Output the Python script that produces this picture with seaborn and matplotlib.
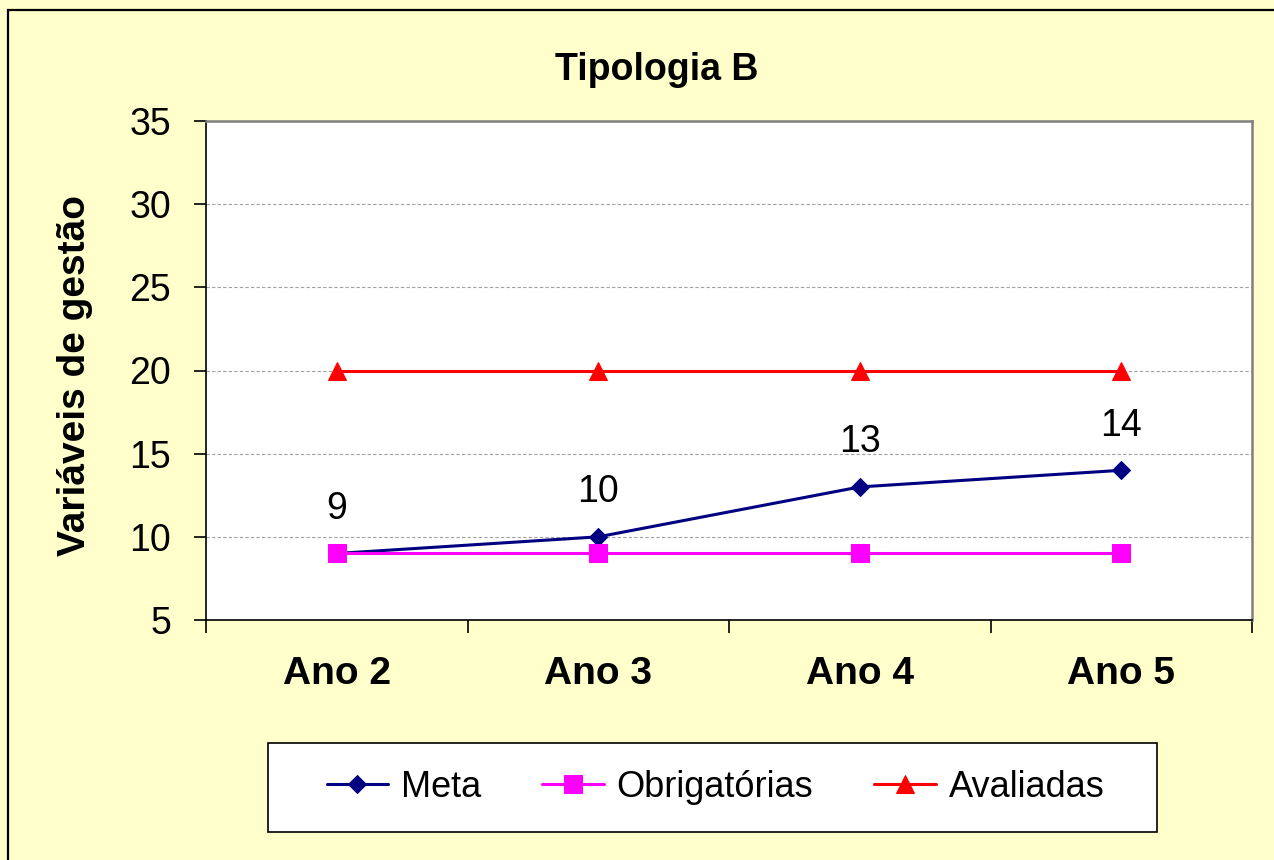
import pandas as pd
import matplotlib.pyplot as plt
import seaborn as sns
from matplotlib.patches import Rectangle
from matplotlib.ticker import FixedLocator, NullFormatter, FixedFormatter

# data
anos = ["Ano 2", "Ano 3", "Ano 4", "Ano 5"]
meta = [9, 10, 13, 14]
obrigatorias = [9, 9, 9, 9]
avaliadas = [20, 20, 20, 20]
series_names = ["Meta", "Obrigatórias", "Avaliadas"]
y_ticks = [5, 10, 15, 20, 25, 30, 35]

df = pd.DataFrame({
    "Ano": anos * 3,
    "Valor": meta + obrigatorias + avaliadas,
    "Serie": [series_names[0]] * 4 + [series_names[1]] * 4 + [series_names[2]] * 4,
})

sns.set_style("white")
plt.rcParams["font.family"] = ["Liberation Sans", "DejaVu Sans"]
plt.rcParams["text.color"] = "black"
plt.rcParams["axes.labelcolor"] = "black"
plt.rcParams["xtick.color"] = "black"
plt.rcParams["ytick.color"] = "black"

W, H = 1274, 860
fig = plt.figure(figsize=(W / 100, H / 100), dpi=100, facecolor="#FFFFCC")
ax = fig.add_axes([206 / W, 1 - 620 / H, (1252 - 206) / W, (620 - 121) / H])
ax.set_facecolor("white")

# outer frame (only top and left edges visible in the reference)
fig.patches.append(Rectangle((8 / W, -0.05), 1.2, 1 - 10 / H + 0.05,
                             transform=fig.transFigure, fill=False,
                             edgecolor="black", linewidth=1.6))
# legend box
fig.patches.append(Rectangle((268 / W, 1 - 832 / H), 889 / W, 89 / H,
                             transform=fig.transFigure, facecolor="white",
                             edgecolor="black", linewidth=1.2))

palette = {"Meta": "#000080", "Obrigatórias": "#FF00FF", "Avaliadas": "#FF0000"}
markers = {"Meta": "D", "Obrigatórias": "s", "Avaliadas": "^"}
sizes = {"Meta": 9, "Obrigatórias": 13, "Avaliadas": 13}

for name in series_names:
    sub = df[df["Serie"] == name]
    sns.lineplot(data=sub, x="Ano", y="Valor", ax=ax, color=palette[name],
                 marker=markers[name], markersize=sizes[name],
                 markeredgecolor=palette[name], linewidth=2.2, label=name,
                 legend=False)

# data labels for Meta
for i, v in enumerate(meta):
    ax.annotate(str(v), (i, v), xytext=(0, 32), textcoords="offset points",
                ha="center", va="center", fontsize=27, color="black")

ax.set_xlim(-0.5, 3.5)
ax.set_ylim(5, 35)
ax.set_yticks(y_ticks)
ax.set_yticklabels([str(t) for t in y_ticks], fontsize=27)
ax.tick_params(axis="y", direction="out", length=9, width=1.2, pad=16, left=True)

# category boundaries as major ticks, labels on minor ticks at the centres
ax.xaxis.set_major_locator(FixedLocator([-0.5, 0.5, 1.5, 2.5, 3.5]))
ax.xaxis.set_major_formatter(NullFormatter())
ax.xaxis.set_minor_locator(FixedLocator(range(len(anos))))
ax.xaxis.set_minor_formatter(FixedFormatter(anos))
ax.tick_params(axis="x", which="major", direction="out", length=9, width=1.2, bottom=True)
ax.tick_params(axis="x", which="minor", length=0, pad=26, labelsize=28)
for lab in ax.get_xticklabels(minor=True):
    lab.set_fontweight("bold")

ax.set_xlabel("")
ax.set_ylabel("Variáveis de gestão", fontsize=28, fontweight="bold")
ax.yaxis.set_label_coords(-0.108, 0.49)

ax.grid(axis="y", linestyle=(0, (3, 2)), color="#A0A0A0", linewidth=0.8)
for s in ("left", "bottom"):
    ax.spines[s].set_color("black")
    ax.spines[s].set_linewidth(1.2)
for s in ("top", "right"):
    ax.spines[s].set_color("#808080")
    ax.spines[s].set_linewidth(1.8)

fig.text(657 / W, 1 - 80 / H, "Tipologia B", ha="center", va="baseline",
         fontsize=27, fontweight="bold")

handles, labels = ax.get_legend_handles_labels()
leg = fig.legend(handles, labels, loc="center",
                 bbox_to_anchor=(271 / W, 1 - 832 / H, 889 / W, 89 / H),
                 ncol=3, fontsize=26, frameon=False,
                 handlelength=1.7, handletextpad=0.35, columnspacing=1.7)

fig.savefig("out.png", dpi=100, facecolor=fig.get_facecolor())
